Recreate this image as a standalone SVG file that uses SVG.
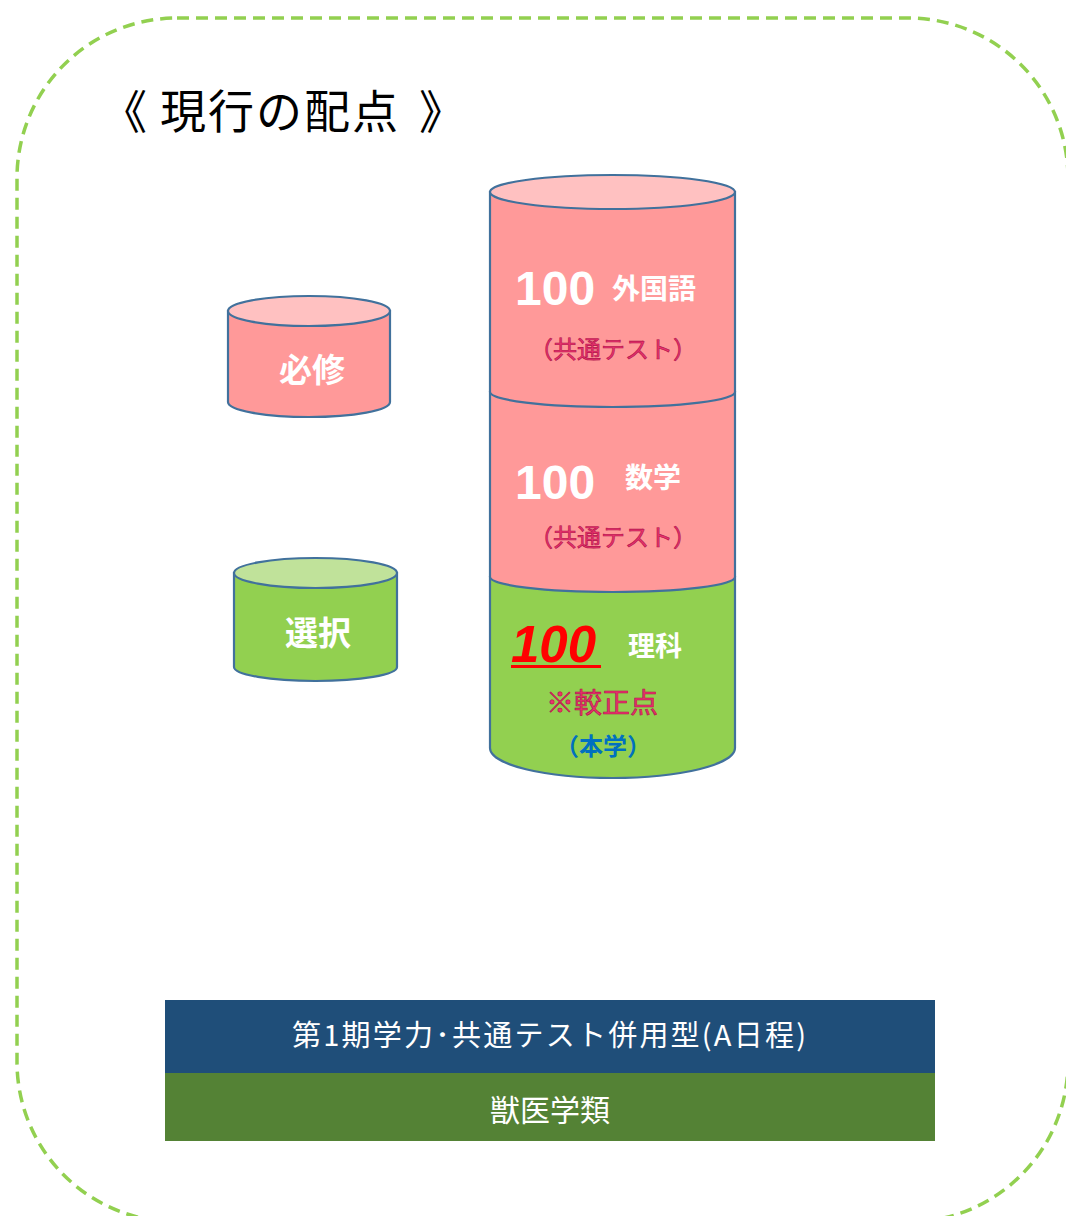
<svg xmlns="http://www.w3.org/2000/svg" width="1066" height="1216" viewBox="0 0 1066 1216">
<style>
.cyl{stroke:#41719C;stroke-width:2.2}
.pink{fill:#FF9999}
.pinktop{fill:#FFC1C1}
.green{fill:#92D050}
.greentop{fill:#C0E29A}
.jp{font-family:"Noto Sans CJK JP","Noto Sans CJK SC",sans-serif}
.w{fill:#FFFFFF;font-weight:bold}
.num{font-family:"Liberation Sans",Arial,sans-serif;font-weight:bold}
.kyo{fill:#E8336D;stroke:#B0124A;stroke-width:0.6;font-size:24px}
</style>
<rect id="frame" x="17" y="18" width="1051" height="1204" rx="160" ry="160" fill="none" stroke="#92D050" stroke-width="3.5" stroke-dasharray="12 7"/>
<g id="title" class="jp" font-size="46" fill="#000">
<text x="101" y="128">《</text>
<text x="160" y="128" letter-spacing="2">現行の配点</text>
<text x="419" y="128">》</text>
</g>
<g id="hisshu">
<path class="cyl pink" d="M228,311 L228,402 A81,15 0 0 0 390,402 L390,311 Z"/>
<ellipse class="cyl pinktop" cx="309" cy="311" rx="81" ry="15"/>
<text class="jp w" x="312" y="382" font-size="33" text-anchor="middle">必修</text>
</g>
<g id="sentaku">
<path class="cyl green" d="M234,573 L234,667 A81.5,14 0 0 0 397,667 L397,573 Z"/>
<ellipse class="cyl greentop" cx="315.5" cy="573" rx="81.5" ry="15"/>
<text class="jp w" x="318" y="645" font-size="33" text-anchor="middle">選択</text>
</g>
<g id="rika">
<path class="cyl green" d="M490,577 L490,748 A122.5,30 0 0 0 735,748 L735,577 Z"/>
<text x="511" y="662" font-family="Liberation Sans,Arial,sans-serif" font-weight="bold" font-style="italic" font-size="51" fill="#FF0000">100</text>
<rect x="511" y="665" width="90" height="3" fill="#FF0000"/>
<text class="jp w" x="628" y="656" font-size="27">理科</text>
<text class="jp kyo" x="546" y="713" style="font-size:28px">※較正点</text>
<text class="jp" x="555" y="755" font-size="24" font-weight="bold" fill="#0070C0">（本学）</text>
</g>
<g id="sugaku">
<path class="cyl pink" d="M490,392 L490,577 A122.5,15 0 0 0 735,577 L735,392 Z"/>
<text class="num" x="515" y="499" font-size="48" fill="#FFFFFF">100</text>
<text class="jp w" x="625" y="488" font-size="28">数学</text>
<text class="jp kyo" x="529" y="546">（共通テスト）</text>
</g>
<g id="gaikokugo">
<path class="cyl pink" d="M490,192 L490,392 A122.5,15 0 0 0 735,392 L735,192 Z"/>
<ellipse class="cyl pinktop" cx="612.5" cy="192" rx="122.5" ry="17"/>
<text class="num" x="515" y="305" font-size="48" fill="#FFFFFF">100</text>
<text class="jp w" x="612" y="299" font-size="28">外国語</text>
<text class="jp kyo" x="529" y="358">（共通テスト）</text>
</g>
<g id="bar-exam">
<rect x="165" y="1000" width="770" height="74" fill="#1F4E79"/>
<text class="jp" x="292" y="1046" font-size="29" fill="#FFFFFF" textLength="514" lengthAdjust="spacing">第1期学力･共通テスト併用型(A日程)</text>
</g>
<g id="bar-dept">
<rect x="165" y="1073" width="770" height="68" fill="#548235"/>
<text class="jp" x="550" y="1121" font-size="30" fill="#FFFFFF" text-anchor="middle">獣医学類</text>
</g>
<g id="connectors"/>
</svg>
